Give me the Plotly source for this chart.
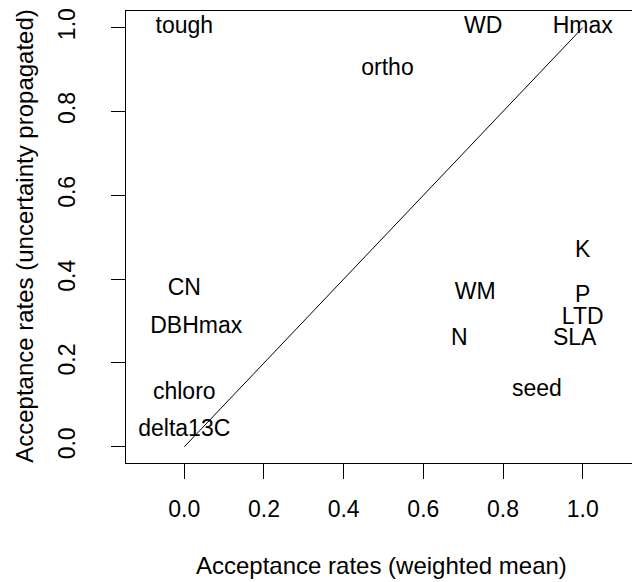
import plotly.graph_objects as go

# Data
traits = ["tough", "WD", "Hmax", "ortho", "CN", "DBHmax", "chloro", "delta13C",
          "WM", "N", "K", "P", "LTD", "SLA", "seed"]
weighted_mean = [0.0, 0.75, 1.0, 0.51, 0.0, 0.03, 0.0, 0.0,
                 0.73, 0.69, 1.0, 1.0, 1.0, 0.98, 0.885]
uncertainty_propagated = [1.0, 1.0, 1.0, 0.90, 0.375, 0.285, 0.127, 0.04,
                          0.366, 0.256, 0.467, 0.358, 0.306, 0.256, 0.135]
line_x = [0, 1]
line_y = [0, 1]
tick_vals = [0.0, 0.2, 0.4, 0.6, 0.8, 1.0]
tick_text = ["0.0", "0.2", "0.4", "0.6", "0.8", "1.0"]

FONT = "Liberation Sans, Arial, sans-serif"
FS = 23
FS_TITLE = 24

fig = go.Figure()
fig.add_trace(go.Scatter(x=line_x, y=line_y, mode="lines",
                         line=dict(color="black", width=1), hoverinfo="skip",
                         showlegend=False))
fig.add_trace(go.Scatter(x=weighted_mean, y=uncertainty_propagated, mode="text",
                         text=traits, textposition="middle center",
                         textfont=dict(family=FONT, size=FS, color="black"),
                         showlegend=False))

fig.update_layout(
    width=632, height=574,
    margin=dict(l=118, r=0, t=0, b=119, pad=0),
    paper_bgcolor="white", plot_bgcolor="white",
    font=dict(family=FONT, size=FS, color="black"),
    xaxis=dict(range=[-0.1463, 1.1438], tickvals=tick_vals, ticktext=tick_text,
               ticks="outside", ticklen=15, tickwidth=1, tickcolor="black",
               showline=True, linecolor="black", linewidth=1, mirror=True,
               showgrid=False, zeroline=False, ticklabelstandoff=10,
               ticklabeloverflow="allow",
               tickfont=dict(family=FONT, size=FS, color="black")),
    yaxis=dict(range=[-0.0386, 1.0396], tickvals=tick_vals, ticktext=tick_text,
               ticks="outside", ticklen=14, tickwidth=1, tickcolor="black",
               showline=True, linecolor="black", linewidth=1, mirror=False,
               showgrid=False, zeroline=False, tickangle=-90, ticklabelstandoff=27,
               ticklabeloverflow="allow",
               tickfont=dict(family=FONT, size=FS, color="black")),
    annotations=[
        dict(text="Acceptance rates (weighted mean)", xref="paper", yref="paper",
             x=0.4975, y=-0.2264, xanchor="center", yanchor="middle", showarrow=False,
             font=dict(family=FONT, size=FS_TITLE, color="black")),
        dict(text="Acceptance rates (uncertainty propagated)", xref="paper", yref="paper",
             x=-0.1965, y=0.5026, xanchor="center", yanchor="middle", showarrow=False,
             textangle=-90, font=dict(family=FONT, size=FS_TITLE, color="black")),
    ],
)

fig.write_html("out.html")
